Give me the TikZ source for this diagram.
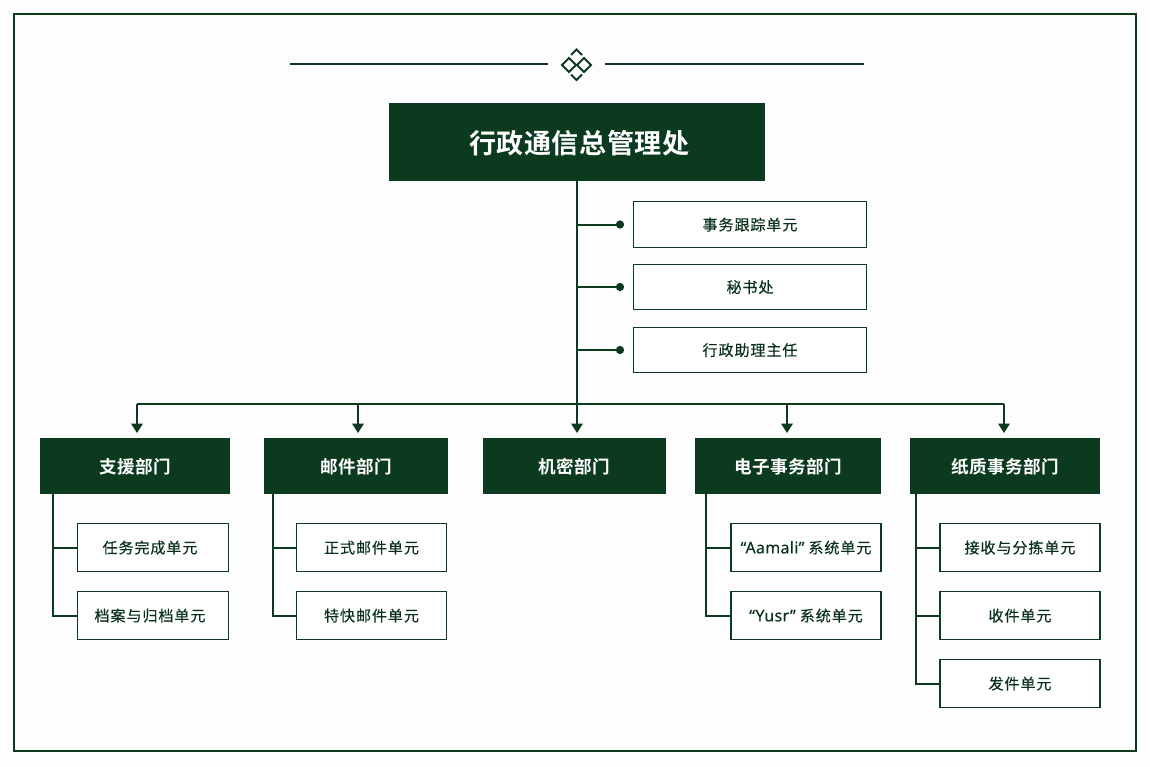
\documentclass[tikz,border=0pt]{standalone}
\usepackage{fontspec}
\newfontfamily\cjk[LetterSpace=6,FakeBold=0.25]{Noto Sans CJK SC}
\newfontfamily\cjkb[LetterSpace=2,BoldFont={Noto Sans CJK SC Bold}]{Noto Sans CJK SC}
\newfontfamily\latn[LetterSpace=2,FakeBold=0.25,Scale=1.06]{Noto Sans}
\usetikzlibrary{arrows.meta}
\definecolor{dkgreen}{HTML}{0B3A1E}
\definecolor{paper}{HTML}{FDFDFD}
\tikzset{
  boxbase/.style={anchor=center,inner sep=0pt,outer sep=0pt},
  headbox/.style={boxbase,fill=dkgreen,text=white,minimum width=282pt,minimum height=58.5pt,text height=18.9pt,text depth=2pt,font=\cjkb\bfseries\fontsize{20.3}{24}\selectfont},
  deptbox/.style={boxbase,fill=dkgreen,text=white,minimum height=42pt,text height=13pt,text depth=1.5pt,font=\cjkb\bfseries\fontsize{13.2}{16}\selectfont},
  unitbox/.style={boxbase,draw=dkgreen,line width=0.85pt,fill=white,text=dkgreen!85!black,text height=10.3pt,text depth=1.5pt,font=\cjk\fontsize{11.3}{14}\selectfont},
  topunit/.style={unitbox,minimum width=175pt,minimum height=34pt},
  subunit/.style={unitbox,minimum height=36.5pt},
  wire/.style={draw=dkgreen,line width=1.5pt},
  arrowwire/.style={wire,-{Triangle[length=7pt,width=8.5pt]}},
  dotmark/.style={circle,fill=dkgreen,minimum size=6.2pt,inner sep=0pt,outer sep=0pt},
  rulewire/.style={draw=dkgreen,line width=1pt},
  ornament/.style={draw=dkgreen,line width=1.4pt,line join=miter},
}
\begin{document}
\begin{tikzpicture}[x=0.75pt,y=-0.75pt]
\useasboundingbox (0,0) rectangle (1150,767);
\fill[paper] (0,0) rectangle (1150,767);
\draw[dkgreen,line width=1.7pt] (14,14) rectangle (1136,751);

% ornament
\coordinate (rl1) at (290,64); \coordinate (rl2) at (548,64);
\coordinate (rr1) at (605,64); \coordinate (rr2) at (864,64);
\draw[rulewire] (rl1) -- (rl2);
\draw[rulewire] (rr1) -- (rr2);
\draw[ornament] (562,65) -- (569,58) -- (576,65) -- (569,72) -- cycle;
\draw[ornament] (577,65) -- (584,58) -- (591,65) -- (584,72) -- cycle;
\draw[ornament] (571,55) -- (576.5,49.5) -- (582,55);
\draw[ornament] (571,74.5) -- (576.5,80) -- (582,74.5);

% head
\node[headbox] (head) at (577,142) {\kern3.5pt 行政通信总管理处};

% top units
\node[topunit] (u1) at (750,224.5) {事务跟踪单元};
\node[topunit] (u2) at (750,287) {秘书处};
\node[topunit] (u3) at (750,350) {行政助理主任};
\node[dotmark] (d1) at (620,224.5) {};
\node[dotmark] (d2) at (620,287) {};
\node[dotmark] (d3) at (620,350) {};

% departments
\node[deptbox,minimum width=142.5pt] (a) at (135,466) {支援部门};
\node[deptbox,minimum width=138pt] (b) at (356,466) {邮件部门};
\node[deptbox,minimum width=137.25pt] (c) at (574.5,466) {机密部门};
\node[deptbox,minimum width=139.5pt] (e) at (788,466) {电子事务部门};
\node[deptbox,minimum width=142.5pt] (f) at (1005,466) {纸质事务部门};

% sub units
\node[subunit,minimum width=113.5pt] (a1) at (153,547.5) {任务完成单元\kern4.5pt};
\node[subunit,minimum width=113.5pt] (a2) at (153,615.5) {档案与归档单元\kern4.5pt};
\node[subunit,minimum width=113pt] (b1) at (371.5,547.5) {正式邮件单元};
\node[subunit,minimum width=113pt] (b2) at (371.5,615.5) {特快邮件单元};
\node[subunit,minimum width=112.5pt] (e1) at (806,547.5) {{\latn“Aamali”}\kern3pt 系统单元};
\node[subunit,minimum width=112.5pt] (e2) at (806,615.5) {{\latn“Yusr”}\kern3pt 系统单元};
\node[subunit,minimum width=120pt] (f1) at (1020,547.5) {接收与分拣单元};
\node[subunit,minimum width=120pt] (f2) at (1020,615.5) {收件单元};
\node[subunit,minimum width=120pt] (f3) at (1020,683.5) {发件单元};

% main spine and bus
\coordinate (bus) at (577,404);
\coordinate (tipC) at (577,433);
\draw[arrowwire] (head.south) -- (tipC);
\draw[wire] (577,224.5) -- (d1.center);
\draw[wire] (577,287) -- (d2.center);
\draw[wire] (577,350) -- (d3.center);
\coordinate (busL) at (137,404);
\coordinate (busR) at (1004,404);
\draw[wire] (busL) -- (busR);
\draw[arrowwire] (busL) -- (137,433);
\draw[arrowwire] (358,404) -- (358,433);
\draw[arrowwire] (787,404) -- (787,433);
\draw[arrowwire] (busR) -- (1004,433);

% branches
\draw[wire] (53,494) |- (a2.west);
\draw[wire] (53,547.5) -- (a1.west);
\draw[wire] (273,494) |- (b2.west);
\draw[wire] (273,547.5) -- (b1.west);
\draw[wire] (706,494) |- (e2.west);
\draw[wire] (706,547.5) -- (e1.west);
\draw[wire] (916,494) |- (f3.west);
\draw[wire] (916,547.5) -- (f1.west);
\draw[wire] (916,615.5) -- (f2.west);
\end{tikzpicture}
\end{document}
